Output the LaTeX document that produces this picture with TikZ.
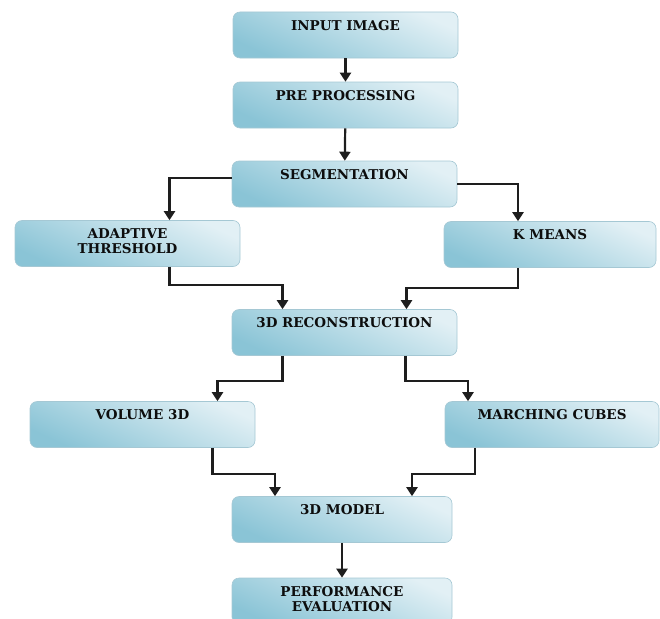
\documentclass[tikz,border=0pt]{standalone}
\usepackage{fontspec}
\setmainfont{DejaVu Serif}
\usepackage{xcolor}
\usetikzlibrary{shapes,arrows.meta,positioning}

\definecolor{stagedark}{RGB}{138,196,214}
\definecolor{stagelight}{RGB}{226,240,245}
\definecolor{stageline}{RGB}{165,200,212}
\definecolor{flowgray}{RGB}{30,30,30}
\newcommand{\toptext}[1]{\parbox[c][30pt][t]{190pt}{\centering #1}}

\begin{document}
\begin{tikzpicture}[
    x=1pt, y=-1pt,
    stage/.style={rectangle, draw=stageline, line width=0.6pt, rounded corners=7pt, top color=stagelight, bottom color=stagedark, shading angle=-25, minimum width=225pt, minimum height=46pt, inner xsep=4pt, inner ysep=8pt, font=\bfseries\fontsize{13.5}{15}\selectfont, text=black!80!darkgray},
    flow/.style={-{Triangle[width=11pt,length=9pt]}, line width=2.2pt, draw=flowgray},
]
    \clip (0,0) rectangle (660,618);
    \node[stage] (input) at (345.5,35) {\toptext{INPUT IMAGE}};
    \node[stage] (pre) at (345.5,105) {\toptext{PRE PROCESSING}};
    \node[stage] (seg) at (344.5,184) {\toptext{SEGMENTATION}};
    \node[stage] (adapt) at (127.5,243.5) {\toptext{ADAPTIVE\\THRESHOLD}};
    \node[stage, minimum width=212pt] (kmeans) at (550,244.5) {\toptext{K MEANS}};
    \node[stage] (rec) at (344.5,332.5) {\toptext{3D RECONSTRUCTION}};
    \node[stage] (volume) at (142.5,424.5) {\toptext{VOLUME 3D}};
    \node[stage, minimum width=214pt] (march) at (552,424.5) {\toptext{MARCHING CUBES}};
    \node[stage, minimum width=220pt] (model) at (342,519.5) {\toptext{3D MODEL}};
    \node[stage, minimum width=220pt] (perf) at (342,601) {\toptext{PERFORMANCE\\EVALUATION}};

    \draw[flow] (input) -- (pre);
    \draw[flow] (pre) -- (seg);
    \draw[flow] ([yshift=6pt]seg.west) -| ([xshift=42pt]adapt.north);
    \draw[flow] (seg.east) -| ([xshift=-32pt]kmeans.north);
    \draw[flow] ([xshift=42pt]adapt.south) -- ++(0,18) -| ([xshift=-62pt]rec.north);
    \draw[flow] ([xshift=-32pt]kmeans.south) -- ++(0,20) -| ([xshift=62pt]rec.north);
    \draw[flow] ([xshift=-62pt]rec.south) -- ++(0,25) -| ([xshift=75pt]volume.north);
    \draw[flow] ([xshift=61pt]rec.south) -- ++(0,25) -| ([xshift=-84pt]march.north);
    \draw[flow] ([xshift=70pt]volume.south) -- ++(0,26) -| ([xshift=-67pt]model.north);
    \draw[flow] ([xshift=-77pt]march.south) -- ++(0,26) -| ([xshift=70pt]model.north);
    \draw[flow] (model) -- (perf);
\end{tikzpicture}
\end{document}
